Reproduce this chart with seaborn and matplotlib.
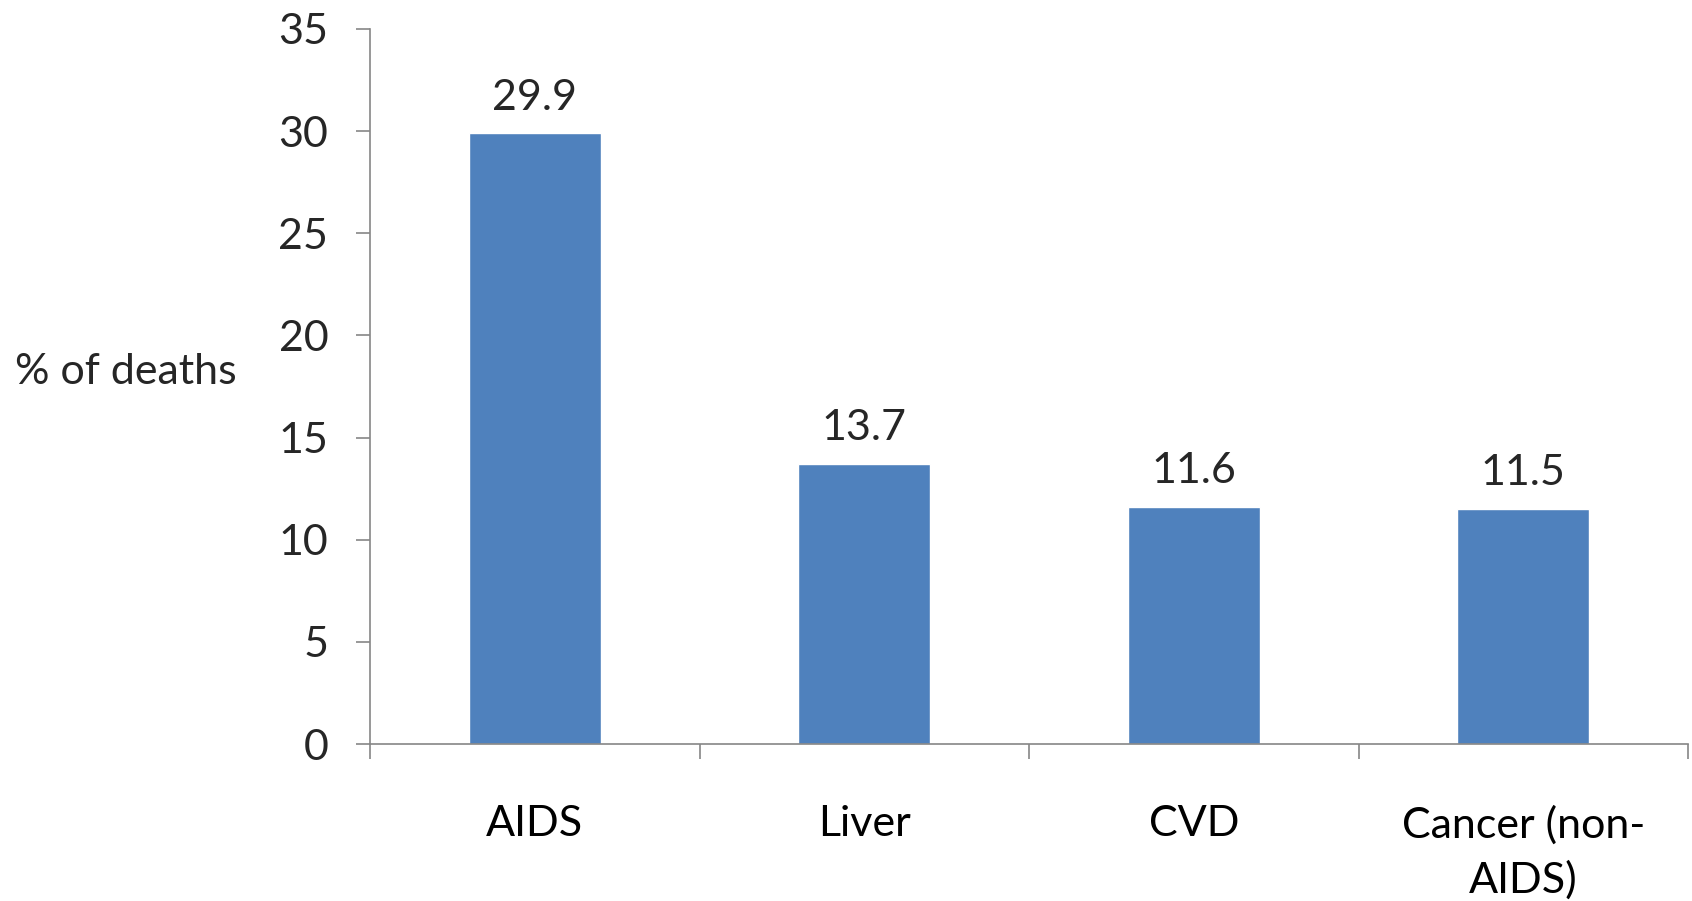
import matplotlib
matplotlib.use("Agg")
import matplotlib.pyplot as plt
import seaborn as sns
import pandas as pd
from matplotlib.ticker import FixedLocator

# Causes of death and their share (%)
causes = ["AIDS", "Liver", "CVD", "Cancer (non-\nAIDS)"]
percent_deaths = [29.9, 13.7, 11.6, 11.5]
y_ticks = [0, 5, 10, 15, 20, 25, 30, 35]

sns.set_theme(style="white")
plt.rcParams["font.family"] = ["Lato", "DejaVu Sans"]

bar_color = "#4F81BD"
axis_color = "#868686"
font_size = 31

df = pd.DataFrame({"cause": causes, "pct": percent_deaths})

fig = plt.figure(figsize=(16.92, 9.01), dpi=100)
ax = fig.add_axes([370 / 1692, 1 - 744 / 901, 1318 / 1692, (744 - 29) / 901])

sns.barplot(data=df, x="cause", y="pct", color=bar_color, saturation=1,
            width=0.4, ax=ax)

ax.set_xlim(-0.5, len(causes) - 0.5)
ax.set_ylim(0, 35)
ax.set_yticks(y_ticks)
ax.set_yticklabels([str(t) for t in y_ticks], fontsize=font_size)

# Category labels centred under bars, tick marks between categories
ax.tick_params(axis="x", which="major", length=0, pad=44, labelsize=font_size,
               colors="black")
ax.xaxis.set_minor_locator(FixedLocator([i - 0.5 for i in range(len(causes) + 1)]))
ax.tick_params(axis="x", which="minor", length=11, width=1.2, color=axis_color,
               direction="out", bottom=True)
ax.tick_params(axis="y", which="major", length=10, width=1.2, color=axis_color,
               direction="out", pad=20, labelsize=font_size, left=True)
for lab in ax.get_xticklabels():
    lab.set_linespacing(1.5)

ax.set_xlabel("")
ax.set_ylabel("% of deaths", fontsize=font_size, rotation=0, ha="left",
              va="center")
ax.yaxis.set_label_coords(-355 / 1318, (744 - 372) / (744 - 29))

for side in ["top", "right"]:
    ax.spines[side].set_visible(False)
for side in ["left", "bottom"]:
    ax.spines[side].set_color(axis_color)
    ax.spines[side].set_linewidth(1.2)

# Value labels above each bar
for i, v in enumerate(percent_deaths):
    ax.annotate(f"{v}", xy=(i, v), xytext=(0, 12), textcoords="offset points",
                ha="center", va="bottom", fontsize=font_size)

fig.savefig("out.png", dpi=100)
